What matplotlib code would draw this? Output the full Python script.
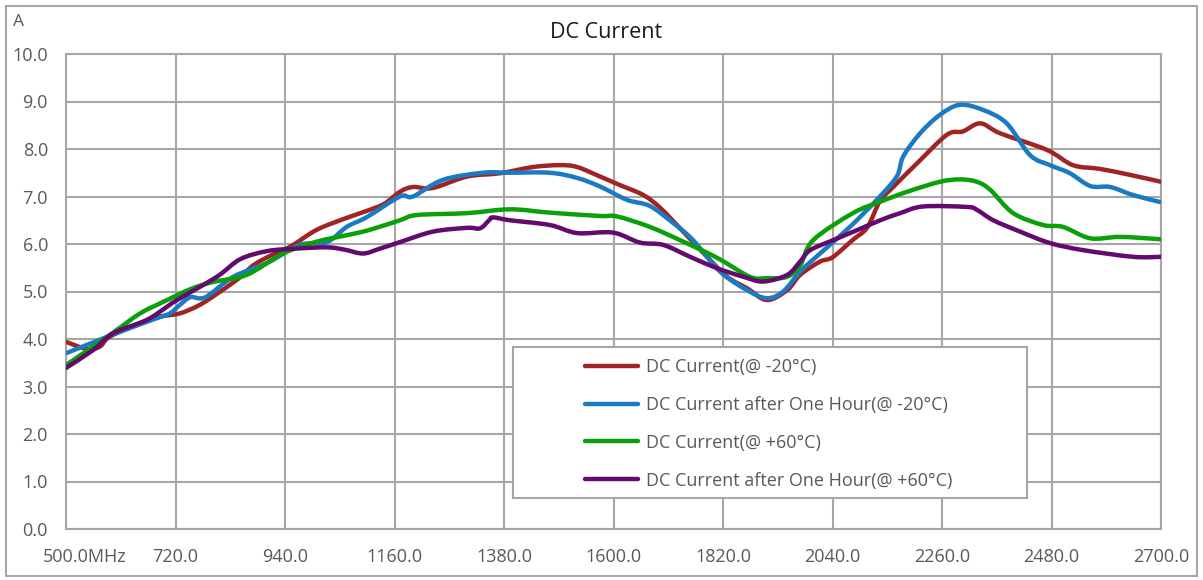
import matplotlib
matplotlib.use('Agg')
import matplotlib.pyplot as plt
from matplotlib.patches import Rectangle, PathPatch
from matplotlib.path import Path
from matplotlib.lines import Line2D
from matplotlib.transforms import ScaledTranslation
import numpy as np

plt.rcParams['font.family'] = ['Open Sans', 'DejaVu Sans']

# frequency (MHz) / current (A)
red_x = [500, 542, 568, 588, 649, 689, 729, 769, 810, 850, 876, 910, 950, 1004, 1064, 1105, 1140,
         1171, 1197, 1237, 1306, 1372, 1438, 1492, 1527, 1573, 1613, 1660, 1694, 1740, 1788, 1828,
         1868, 1908, 1949, 1975, 2015, 2040, 2080, 2110, 2135, 2162, 2210, 2270, 2302, 2337, 2377,
         2471, 2523, 2578, 2640, 2700]
red_y = [3.94, 3.79, 3.84, 4.05, 4.33, 4.47, 4.54, 4.72, 5.0, 5.3, 5.55, 5.75, 5.94, 6.3, 6.55, 6.7, 6.85,
         7.1, 7.2, 7.18, 7.42, 7.49, 7.62, 7.66, 7.62, 7.42, 7.24, 7.03, 6.76, 6.26, 5.73, 5.31,
         5.07, 4.82, 5.03, 5.35, 5.63, 5.72, 6.08, 6.35, 6.9, 7.2, 7.7, 8.3, 8.37, 8.54, 8.33,
         7.98, 7.66, 7.58, 7.45, 7.31]

blue_x = [500, 562, 608, 683, 709, 729, 750, 780, 836, 904, 970, 1024, 1064, 1105, 1171, 1197, 1257,
          1338, 1392, 1472, 1527, 1573, 1627, 1673, 1720, 1760, 1814, 1868, 1908, 1941, 1975, 2015,
          2075, 2129, 2169, 2182, 2216, 2256, 2296, 2343, 2390, 2437, 2477, 2517, 2558, 2598, 2644, 2700]
blue_y = [3.7, 3.96, 4.15, 4.44, 4.54, 4.72, 4.88, 4.88, 5.31, 5.6, 5.98, 6.04, 6.36, 6.57, 7.0, 7.0, 7.35,
          7.5, 7.5, 7.5, 7.39, 7.21, 6.93, 6.8, 6.44, 6.08, 5.42, 5.03, 4.86, 5.0, 5.42, 5.8,
          6.36, 6.93, 7.42, 7.84, 8.33, 8.72, 8.93, 8.82, 8.54, 7.87, 7.66, 7.49, 7.22, 7.2, 7.03, 6.88]

green_x = [500, 568, 602, 649, 689, 703, 750, 795, 863, 936, 1004, 1071, 1111, 1171, 1205, 1306, 1392,
           1472, 1573, 1607, 1673, 1740, 1808, 1874, 1908, 1949, 1975, 2001, 2081, 2136, 2190, 2256,
           2296, 2330, 2357, 2403, 2463, 2503, 2558, 2618, 2700]
green_y = [3.45, 3.94, 4.19, 4.54, 4.75, 4.82, 5.05, 5.2, 5.35, 5.8, 6.05, 6.2, 6.3, 6.5, 6.61, 6.65, 6.73,
           6.66, 6.59, 6.58, 6.36, 6.05, 5.71, 5.31, 5.28, 5.31, 5.55, 6.08, 6.65, 6.89, 7.1, 7.31,
           7.36, 7.31, 7.14, 6.65, 6.4, 6.36, 6.12, 6.15, 6.1]

purple_x = [500, 555, 595, 662, 703, 723, 803, 850, 904, 957, 1024, 1060, 1097, 1130, 1171, 1237, 1306,
            1332, 1350, 1358, 1392, 1472, 1527, 1599, 1653, 1700, 1754, 1808, 1861, 1901, 1949, 1975,
            1995, 2041, 2089, 2136, 2176, 2222, 2310, 2330, 2363, 2417, 2477, 2544, 2644, 2700]
purple_y = [3.39, 3.77, 4.12, 4.4, 4.68, 4.82, 5.31, 5.68, 5.85, 5.9, 5.93, 5.88, 5.8, 5.9, 6.04, 6.26, 6.34,
            6.33, 6.5, 6.56, 6.5, 6.4, 6.23, 6.24, 6.03, 5.98, 5.73, 5.49, 5.31, 5.21, 5.35, 5.63,
            5.87, 6.08, 6.29, 6.5, 6.65, 6.79, 6.78, 6.72, 6.5, 6.26, 6.02, 5.87, 5.73, 5.73]

labels = ['DC Current(@ -20°C)', 'DC Current after One Hour(@ -20°C)',
          'DC Current(@ +60°C)', 'DC Current after One Hour(@ +60°C)']
colors = ['#A02424', '#1A7BC4', '#0AA00A', '#640A6E']

x_ticks = [500, 720, 940, 1160, 1380, 1600, 1820, 2040, 2260, 2480, 2700]
x_ticklabels = ['500.0MHz'] + ['%.1f' % v for v in x_ticks[1:]]
y_ticks = np.arange(0, 11, 1)

txt = '#595959'
grid_c = '#A6A6A6'


def smooth_path(xs, ys):
    # smoothed line like the spreadsheet one: catmull-rom segments as cubic beziers
    p = np.column_stack([xs, ys]).astype(float)
    p = np.vstack([p[0], p, p[-1]])
    verts = [p[1]]
    codes = [Path.MOVETO]
    for i in range(1, len(p) - 2):
        c1 = p[i] + (p[i + 1] - p[i - 1]) / 6
        c2 = p[i + 1] - (p[i + 2] - p[i]) / 6
        verts += [c1, c2, p[i + 1]]
        codes += [Path.CURVE4] * 3
    return Path(verts, codes)


fig = plt.figure(figsize=(12.03, 5.80), dpi=100)
ax = fig.add_axes([66/1203, 51/580, 1095/1203, 475/580])

series = [(red_x, red_y), (blue_x, blue_y), (green_x, green_y), (purple_x, purple_y)]
handles = []
for (xs, ys), c, lab in zip(series, colors, labels):
    ax.add_patch(PathPatch(smooth_path(xs, ys), facecolor='none', edgecolor=c, lw=3.2,
                           joinstyle='round', capstyle='round', zorder=3))
    handles.append(Line2D([], [], color=c, lw=3.2, solid_capstyle='round', label=lab))

ax.set_xlim(500, 2700)
ax.set_ylim(0, 10)
ax.set_xticks(x_ticks)
ax.set_xticklabels(x_ticklabels)
ax.set_yticks(y_ticks)
ax.set_yticklabels(['%.1f' % v for v in y_ticks])
ax.tick_params(length=0, labelsize=13, labelcolor=txt)
ax.tick_params(axis='y', pad=13)
ax.tick_params(axis='x', pad=14)
ax.grid(True, color=grid_c, lw=1.5)
ax.set_axisbelow(True)
for s in ax.spines.values():
    s.set_color(grid_c)
    s.set_linewidth(1.5)

# first label is pushed right so it stays inside the chart box
first = ax.get_xticklabels()[0]
first.set_transform(first.get_transform() + ScaledTranslation(0.19, 0, fig.dpi_scale_trans))

# legend box
ax.add_patch(Rectangle((0.408, 0.0653), 0.4696, 0.3177, transform=ax.transAxes,
                       facecolor='white', edgecolor=grid_c, lw=1.5, zorder=4))
leg = ax.legend(handles=handles, loc='upper left', bbox_to_anchor=(0.474, 0.36),
                frameon=False, fontsize=13, handlelength=2.95, handletextpad=0.4,
                labelspacing=1.1, borderpad=0, borderaxespad=0)
leg.set_zorder(5)
for t in leg.get_texts():
    t.set_color(txt)

fig.text(606/1203, 1 - 33/580, 'DC Current', ha='center', va='center', fontsize=15.5, color='#1a1a1a')
fig.text(13/1203, 1 - 22/580, 'A', ha='left', va='center', fontsize=12.5, color=txt)

fig.add_artist(Rectangle((6/1203, 4/580), 1191/1203, 570/580, transform=fig.transFigure,
                         facecolor='none', edgecolor=grid_c, lw=1.5))

fig.savefig('out.png', dpi=100)
